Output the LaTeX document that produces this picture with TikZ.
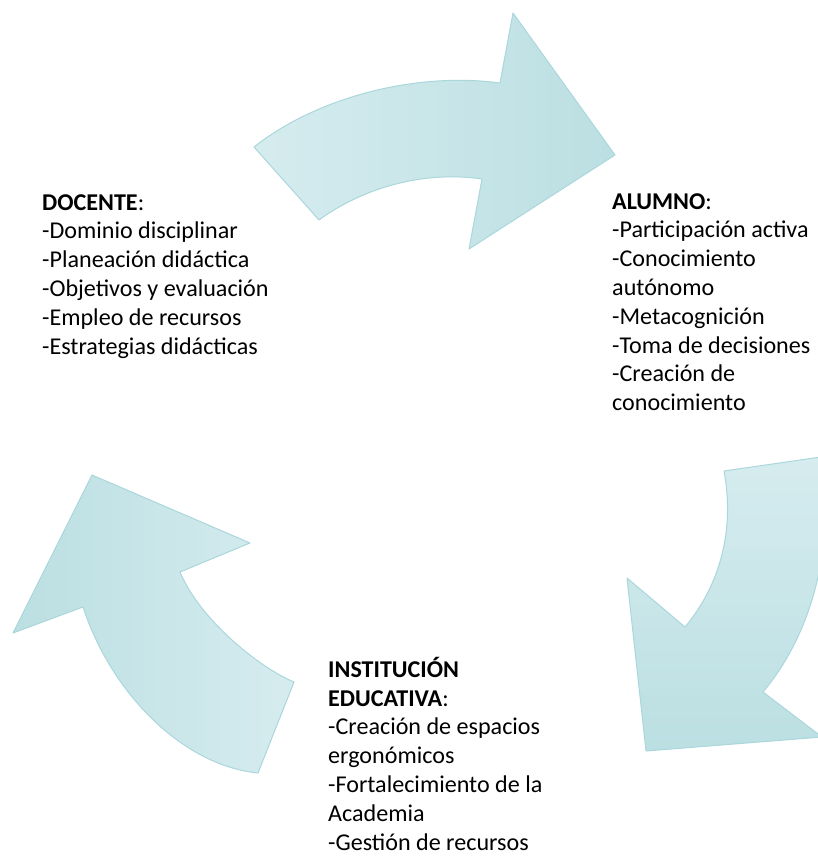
\documentclass[tikz,border=0pt]{standalone}
\usepackage{fontspec}
\setmainfont{Carlito}
\definecolor{flechaclara}{HTML}{D6ECEF}
\definecolor{flechaoscura}{HTML}{BBDFE2}
\definecolor{flechaborde}{HTML}{AAD7DC}
\begin{document}
\begin{tikzpicture}[x=1pt,y=-1pt,
  flecha/.style={draw=flechaborde, line width=1pt, line join=round},
  lista/.style={anchor=north west, align=left, inner sep=0pt,
    font=\fontsize{24.1}{28.8}\selectfont}]
\useasboundingbox (0,0) rectangle (817,867);
% flecha superior
\path[flecha, left color=flechaclara, right color=flechaoscura]
  (254,147) -- (319,220) .. controls (360,190) and (420,170) .. (482,179)
  -- (469,249) -- (615,155) -- (513,13) -- (500,83)
  .. controls (420,72) and (320,95) .. cycle;
% flecha derecha
\path[flecha, top color=flechaclara, bottom color=flechaoscura]
  (724,471) -- (821,457) .. controls (835,540) and (815,630) .. (763,692)
  -- (822,737) -- (646,751) -- (627,578) -- (685,627)
  .. controls (720,585) and (735,530) .. cycle;
% flecha izquierda
\path[flecha, left color=flechaoscura, right color=flechaclara]
  (258,773) -- (294,682) .. controls (260,668) and (200,620) .. (180,572)
  -- (250,543) -- (92,475) -- (13,633) -- (83,607)
  .. controls (110,690) and (180,765) .. cycle;
% textos
\node[lista] (docente) at (42,189.8) {\strut\textbf{DOCENTE}:\\-Dominio disciplinar\\-Planeación didáctica\\-Objetivos y evaluación\\-Empleo de recursos\\-Estrategias didácticas};
\node[lista] (alumno) at (612,188.8) {\strut\textbf{ALUMNO}:\\-Participación activa\\-Conocimiento\\autónomo\\-Metacognición\\-Toma de decisiones\\-Creación de\\conocimiento};
\node[lista] (institucion) at (328,656.8) {\strut\textbf{INSTITUCIÓN}\\\textbf{EDUCATIVA}:\\-Creación de espacios\\ergonómicos\\-Fortalecimiento de la\\Academia\\-Gestión de recursos};
\end{tikzpicture}
\end{document}
